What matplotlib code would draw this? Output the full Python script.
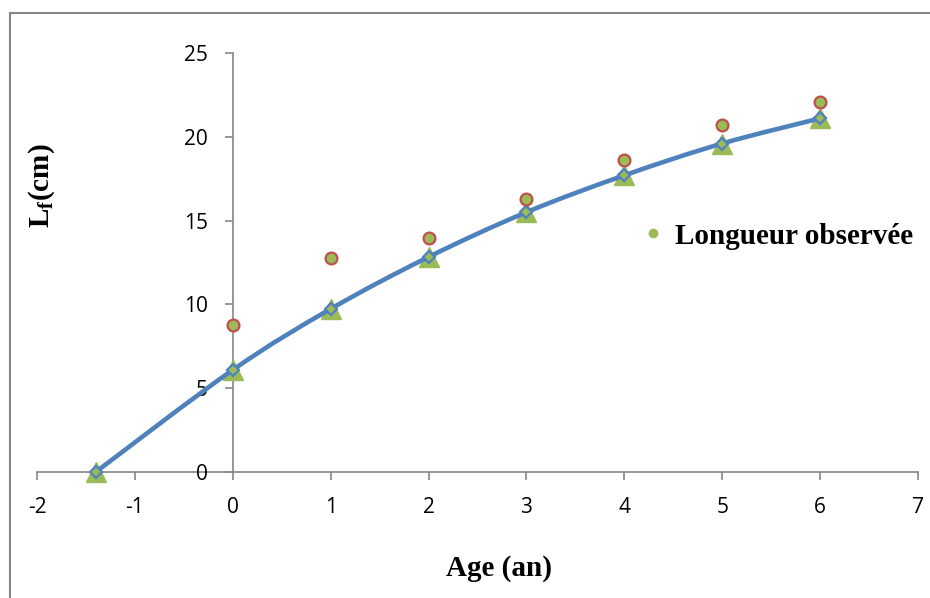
import matplotlib
matplotlib.use('Agg')
import matplotlib.pyplot as plt
import numpy as np
from matplotlib.path import Path
from matplotlib.patches import PathPatch
from matplotlib.lines import Line2D

plt.rcParams['mathtext.fontset'] = 'custom'
plt.rcParams['mathtext.rm'] = 'Liberation Serif:bold'
plt.rcParams['mathtext.bf'] = 'Liberation Serif:bold'
plt.rcParams['axes.unicode_minus'] = False

# model (Von Bertalanffy) lengths and observed lengths
ages_model = [-1.4, 0, 1, 2, 3, 4, 5, 6]
length_model = [0.0, 6.09, 9.73, 12.83, 15.5, 17.7, 19.6, 21.1]
ages_obs = [0, 1, 2, 3, 4, 5, 6]
length_obs = [8.77, 12.77, 13.96, 16.29, 18.6, 20.7, 22.1]

blue = '#4F81BD'
green = '#9BBB59'
red = '#C0504D'
grey = '#868686'


def smooth_path(x, y):
    # Bezier segments like a spreadsheet "smoothed line"
    pts = np.column_stack([x, y]).astype(float)
    verts = [pts[0]]
    codes = [Path.MOVETO]
    n = len(pts)
    for i in range(n - 1):
        p0 = pts[i - 1] if i > 0 else pts[i]
        p1 = pts[i]
        p2 = pts[i + 1]
        p3 = pts[i + 2] if i + 2 < n else pts[i + 1]
        c1 = p1 + (p2 - p0) / 6
        c2 = p2 - (p3 - p1) / 6
        verts += [c1, c2, p2]
        codes += [Path.CURVE4] * 3
    return Path(verts, codes)


fig = plt.figure(figsize=(9.3, 5.98), dpi=100)
ax = fig.add_axes([37 / 930, 1 - 472 / 598, 881 / 930, 419 / 598])

ax.plot(ages_model, length_model, linestyle='none', marker='^', ms=14,
        color=green, zorder=2, clip_on=False)
ax.add_patch(PathPatch(smooth_path(ages_model, length_model), fill=False,
                       edgecolor=blue, lw=3.3, zorder=3, clip_on=False))
ax.plot(ages_model, length_model, linestyle='none', marker='D', ms=6,
        mfc=green, mec=blue, mew=1.6, zorder=4, clip_on=False)
ax.plot(ages_obs, length_obs, linestyle='none', marker='o', ms=8.5,
        mfc=green, mec=red, mew=1.6, zorder=4, clip_on=False)

ax.set_xlim(-2, 7)
ax.set_ylim(0, 25)
ax.set_xticks(range(-2, 8))
ax.set_yticks(range(0, 26, 5))

ax.spines['left'].set_position(('data', 0))
ax.spines['bottom'].set_position(('data', 0))
ax.spines['top'].set_visible(False)
ax.spines['right'].set_visible(False)
for s in ('left', 'bottom'):
    ax.spines[s].set_color(grey)
    ax.spines[s].set_linewidth(1.2)
    ax.spines[s].set_zorder(1)

ax.tick_params(axis='both', direction='out', length=6, width=1.2, color=grey,
               labelsize=16)
ax.tick_params(axis='y', pad=12)
ax.tick_params(axis='x', pad=12)
for lab in ax.get_xticklabels() + ax.get_yticklabels():
    lab.set_fontfamily('Open Sans')
    lab.set_fontsize(15)

fig.text(499 / 930, 1 - 568 / 598, 'Age (an)', family='Liberation Serif',
         weight='bold', fontsize=21, ha='center', va='center')
fig.text(42 / 930, 1 - 186 / 598, r'L$_{\mathbf{f}}$(cm)', family='Liberation Serif',
         weight='bold', fontsize=21, ha='center', va='center', rotation=90)

handle = Line2D([], [], linestyle='none', marker='o', ms=6, color=green)
ax.legend([handle], ['Longueur observée'], frameon=False, loc='center left',
          bbox_to_anchor=(646 / 930, 1 - 236 / 598), bbox_transform=fig.transFigure,
          prop={'family': 'Liberation Serif', 'weight': 'bold', 'size': 21},
          handlelength=0.5, handletextpad=0.5, borderaxespad=0, borderpad=0)

# outer chart frame (left and top edges)
fig.add_artist(Line2D([10 / 930, 10 / 930], [0, 1 - 13 / 598], color=grey, lw=1.5,
                      transform=fig.transFigure))
fig.add_artist(Line2D([10 / 930, 1], [1 - 13 / 598, 1 - 13 / 598], color=grey, lw=1.5,
                      transform=fig.transFigure))

fig.savefig('out.png', dpi=100)
